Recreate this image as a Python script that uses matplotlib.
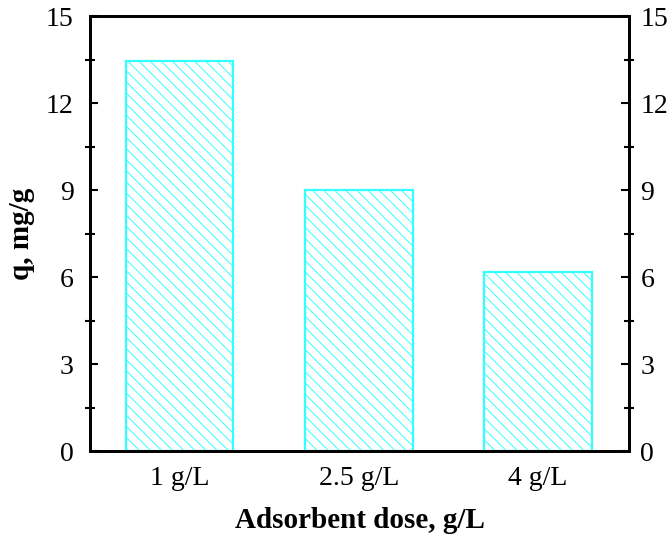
import matplotlib
matplotlib.use("Agg")
import matplotlib.pyplot as plt
from matplotlib.ticker import MultipleLocator

doses = ["1 g/L", "2.5 g/L", "4 g/L"]
q_mg_g = [13.45, 9.0, 6.18]

plt.rcParams["font.family"] = ["Liberation Serif", "DejaVu Serif"]
plt.rcParams["hatch.linewidth"] = 0.7
plt.rcParams["hatch.color"] = "#55ffff"

fig = plt.figure(figsize=(6.68, 5.41), dpi=100)
ax = fig.add_axes([0.135, 0.166, 0.807, 0.804])

x = range(len(doses))
ax.bar(x, q_mg_g, width=0.6, facecolor="white", edgecolor="#33ffff",
       linewidth=1.6, hatch="\\\\\\")

ax.set_xlim(-0.5, 2.51)
ax.set_ylim(0, 15)
ax.set_xticks(list(x))
ax.set_xticklabels(doses, fontsize=20)
ax.tick_params(axis="x", length=0, pad=11)


def style_y(a, side):
    a.set_ylim(0, 15)
    a.yaxis.set_major_locator(MultipleLocator(3))
    a.yaxis.set_minor_locator(MultipleLocator(1.5))
    a.tick_params(axis="y", which="major", direction="in", length=6, width=1.5,
                  labelsize=20)
    a.tick_params(axis="y", which="minor", direction="inout", length=7, width=1.5)
    if side == "left":
        a.tick_params(axis="y", which="both", left=True, right=False, pad=12)
    else:
        a.tick_params(axis="y", which="both", left=False, right=True, pad=8)


style_y(ax, "left")
ax2 = ax.twinx()
style_y(ax2, "right")

for a in (ax, ax2):
    for s in a.spines.values():
        s.set_linewidth(2)

ax.set_xlabel("Adsorbent dose, g/L", fontsize=21, fontweight="bold", labelpad=11)
ax.set_ylabel("q, mg/g", fontsize=21, fontweight="bold", labelpad=8)

fig.savefig("out.png", dpi=100)
